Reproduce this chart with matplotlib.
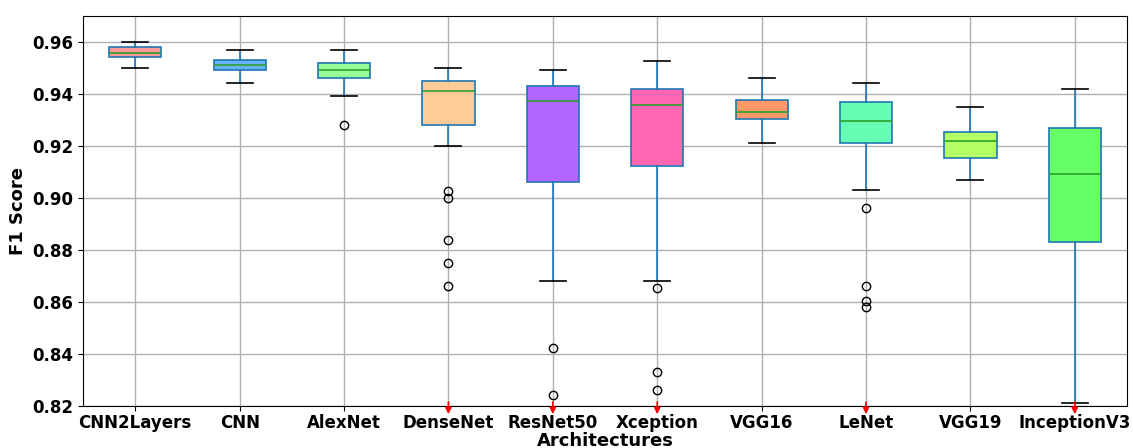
import matplotlib
matplotlib.use("Agg")
import matplotlib.pyplot as plt

architectures = ["CNN2Layers", "CNN", "AlexNet", "DenseNet", "ResNet50",
                 "Xception", "VGG16", "LeNet", "VGG19", "InceptionV3"]
whisker_low = [0.950, 0.9442, 0.9392, 0.920, 0.868, 0.868, 0.9212, 0.9031, 0.9069, 0.8212]
q1 = [0.9542, 0.9492, 0.9462, 0.928, 0.906, 0.9123, 0.9304, 0.9212, 0.9154, 0.8831]
median = [0.956, 0.9512, 0.9492, 0.9412, 0.9373, 0.9358, 0.9331, 0.9296, 0.9219, 0.9092]
q3 = [0.958, 0.9531, 0.9519, 0.945, 0.943, 0.9419, 0.9377, 0.9369, 0.9254, 0.9269]
whisker_high = [0.960, 0.957, 0.957, 0.950, 0.9492, 0.9527, 0.9462, 0.9442, 0.935, 0.9419]
outliers = [[], [], [0.928], [0.9027, 0.900, 0.884, 0.875, 0.866],
            [0.8423, 0.8242], [0.8654, 0.833, 0.8262], [],
            [0.8962, 0.866, 0.8604, 0.858], [], []]
offscale_low = [False, False, False, True, True, True, False, True, False, True]
colors = ["#FF9999", "#66B3FF", "#99FF99", "#FFCC99", "#B266FF",
          "#FF66B2", "#FF9966", "#66FFB2", "#B2FF66", "#66FF66"]
yticks = [0.82, 0.84, 0.86, 0.88, 0.90, 0.92, 0.94, 0.96]

fig = plt.figure(figsize=(11.33, 4.48), dpi=100)
ax = fig.add_axes([0.0733, 0.094, 0.9214, 0.870])

stats = []
for i, name in enumerate(architectures):
    stats.append(dict(label=name, whislo=whisker_low[i], q1=q1[i], med=median[i],
                      q3=q3[i], whishi=whisker_high[i], fliers=outliers[i]))

positions = list(range(1, len(architectures) + 1))
bp = ax.bxp(stats, positions=positions, widths=0.5, patch_artist=True,
            boxprops=dict(edgecolor="#1f77b4", linewidth=1.2),
            whiskerprops=dict(color="#1f77b4", linewidth=1.2),
            capprops=dict(color="black", linewidth=1.2),
            medianprops=dict(color="#2ca02c", linewidth=1.2),
            flierprops=dict(marker="o", markerfacecolor="none",
                            markeredgecolor="black", markersize=6))
for patch, c in zip(bp["boxes"], colors):
    patch.set_facecolor(c)

ax.set_ylim(0.82, 0.97)
ax.set_xlim(0.5, len(architectures) + 0.5)
ax.set_yticks(yticks)
ax.set_yticklabels([f"{v:.2f}" for v in yticks])
ax.grid(True, color="#b0b0b0", linewidth=1.0)
ax.set_axisbelow(True)
ax.tick_params(axis="x", pad=2)

for lab in ax.get_xticklabels() + ax.get_yticklabels():
    lab.set_fontweight("bold")
    lab.set_fontsize(12)
ax.set_xlabel("Architectures", fontsize=13, fontweight="bold", labelpad=0)
ax.set_ylabel("F1 Score", fontsize=13, fontweight="bold")

for pos, flag in zip(positions, offscale_low):
    if flag:
        ax.annotate("", xy=(pos, 0.8168), xytext=(pos, 0.8215),
                    arrowprops=dict(arrowstyle="-|>", color="red", lw=1.2,
                                    mutation_scale=9, shrinkA=0, shrinkB=0),
                    annotation_clip=False)

fig.savefig("out.png", dpi=100)
